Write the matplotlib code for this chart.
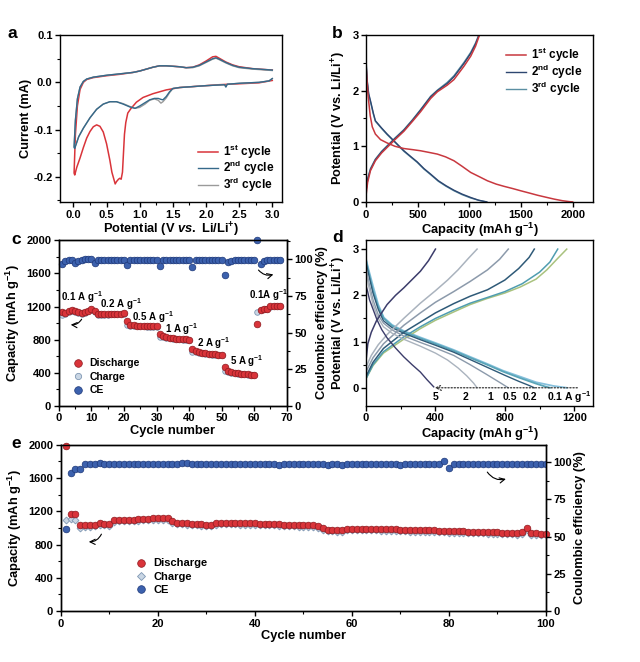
import matplotlib
matplotlib.use('Agg')
import matplotlib.pyplot as plt
from matplotlib.ticker import MultipleLocator, AutoMinorLocator

plt.rcParams['font.family'] = ['Liberation Sans', 'DejaVu Sans']
plt.rcParams['font.weight'] = 'bold'
plt.rcParams['axes.labelweight'] = 'bold'
plt.rcParams['mathtext.fontset'] = 'custom'
plt.rcParams['mathtext.rm'] = 'Liberation Sans:bold'
plt.rcParams['mathtext.bf'] = 'Liberation Sans:bold'
plt.rcParams['mathtext.it'] = 'Liberation Sans:italic:bold'
plt.rcParams['mathtext.default'] = 'bf'
plt.rcParams['font.size'] = 9.3
plt.rcParams['axes.linewidth'] = 1.0

# ---------------- panel a: CV curves (V, mA) ----------------
cv1_v = [3.0, 2.8, 2.5, 2.2, 2.0, 1.8, 1.6, 1.4, 1.2, 1.05, 0.95, 0.87, 0.82, 0.79, 0.77,
         0.755, 0.74, 0.72, 0.70, 0.68, 0.65, 0.63, 0.61, 0.58, 0.55, 0.5, 0.45, 0.4, 0.35,
         0.3, 0.25, 0.2, 0.15, 0.1, 0.05, 0.02, 0.01,
         0.03, 0.06, 0.1, 0.15, 0.2, 0.3, 0.5, 0.7, 0.9, 1.0, 1.1, 1.2, 1.3, 1.4, 1.5, 1.6,
         1.7, 1.8, 1.9, 2.0, 2.1, 2.15, 2.2, 2.3, 2.4, 2.5, 2.7, 2.9, 3.0]
cv1_i = [0.004, -0.001, -0.003, -0.005, -0.007, -0.009, -0.011, -0.016, -0.024, -0.032,
         -0.042, -0.055, -0.065, -0.085, -0.11, -0.15, -0.19, -0.205, -0.203, -0.205, -0.21,
         -0.215, -0.205, -0.19, -0.165, -0.13, -0.105, -0.093, -0.09, -0.094, -0.104, -0.118,
         -0.138, -0.16, -0.18, -0.196, -0.192,
         -0.11, -0.05, -0.015, 0.0, 0.006, 0.01, 0.014, 0.017, 0.021, 0.024, 0.028, 0.032,
         0.035, 0.035, 0.034, 0.033, 0.031, 0.032, 0.037, 0.045, 0.054, 0.055, 0.051, 0.043,
         0.037, 0.033, 0.029, 0.027, 0.026]
cv2_v = [3.0, 2.95, 2.8, 2.5, 2.32, 2.3, 2.28, 2.0, 1.8, 1.6, 1.5, 1.45, 1.4, 1.35, 1.32,
         1.28, 1.22, 1.15, 1.08, 1.0, 0.93, 0.85, 0.75, 0.65, 0.55, 0.45, 0.35, 0.25, 0.15,
         0.08, 0.02, 0.01,
         0.03, 0.06, 0.1, 0.15, 0.2, 0.3, 0.5, 0.7, 0.9, 1.0, 1.1, 1.2, 1.3, 1.4, 1.5, 1.6,
         1.7, 1.8, 1.9, 2.0, 2.1, 2.15, 2.2, 2.3, 2.4, 2.5, 2.7, 2.9, 3.0]
cv2_i = [0.008, 0.003, 0.0, -0.002, -0.004, -0.01, -0.005, -0.007, -0.009, -0.011, -0.013,
         -0.02, -0.03, -0.037, -0.036, -0.034, -0.034, -0.037, -0.043, -0.05, -0.055, -0.052,
         -0.046, -0.041, -0.041, -0.046, -0.057, -0.075, -0.097, -0.115, -0.14, -0.138,
         -0.08, -0.035, -0.01, 0.002, 0.007, 0.011, 0.015, 0.018, 0.021, 0.024, 0.028, 0.032,
         0.035, 0.035, 0.034, 0.033, 0.031, 0.032, 0.036, 0.043, 0.05, 0.052, 0.049, 0.042,
         0.036, 0.032, 0.029, 0.027, 0.026]
cv3_v = [3.0, 2.95, 2.8, 2.5, 2.32, 2.3, 2.28, 2.0, 1.8, 1.6, 1.5, 1.45, 1.4, 1.35, 1.32,
         1.28, 1.22, 1.15, 1.08, 1.0, 0.93, 0.85, 0.75, 0.65, 0.55, 0.45, 0.35, 0.25, 0.15,
         0.08, 0.02, 0.01,
         0.03, 0.06, 0.1, 0.15, 0.2, 0.3, 0.5, 0.7, 0.9, 1.0, 1.1, 1.2, 1.3, 1.4, 1.5, 1.6,
         1.7, 1.8, 1.9, 2.0, 2.1, 2.15, 2.2, 2.3, 2.4, 2.5, 2.7, 2.9, 3.0]
cv3_i = [0.008, 0.003, 0.0, -0.002, -0.004, -0.009, -0.005, -0.007, -0.009, -0.011, -0.013,
         -0.022, -0.033, -0.041, -0.044, -0.038, -0.035, -0.038, -0.046, -0.053, -0.055,
         -0.051, -0.045, -0.041, -0.041, -0.046, -0.057, -0.075, -0.097, -0.115, -0.138, -0.136,
         -0.08, -0.035, -0.01, 0.002, 0.007, 0.011, 0.015, 0.018, 0.021, 0.024, 0.028, 0.032,
         0.035, 0.035, 0.034, 0.033, 0.031, 0.031, 0.035, 0.042, 0.049, 0.051, 0.048, 0.041,
         0.035, 0.031, 0.028, 0.026, 0.025]

# ---------------- panel b: first three cycles (mAh/g, V) ----------------
b1_dis_c = [0, 8, 20, 40, 60, 90, 140, 204, 280, 366, 450, 527, 610, 690, 770, 851, 930,
            1013, 1100, 1175, 1260, 1336, 1420, 1498, 1580, 1660, 1740, 1822, 1900, 1968, 2000]
b1_dis_v = [2.45, 2.2, 1.9, 1.55, 1.35, 1.22, 1.12, 1.06, 1.0, 0.96, 0.94, 0.92, 0.89, 0.86,
            0.81, 0.74, 0.64, 0.53, 0.45, 0.38, 0.32, 0.28, 0.24, 0.2, 0.16, 0.12, 0.085,
            0.05, 0.022, 0.005, 0.0]
b1_ch_c = [0, 15, 42, 90, 150, 204, 280, 366, 450, 527, 625, 690, 786, 851, 948, 1013, 1060, 1098]
b1_ch_v = [0.12, 0.35, 0.56, 0.74, 0.88, 0.98, 1.12, 1.27, 1.45, 1.62, 1.86, 1.98, 2.1, 2.2,
           2.44, 2.62, 2.8, 3.0]
b2_dis_c = [0, 10, 25, 45, 70, 90, 150, 204, 280, 366, 430, 495, 560, 625, 700, 775, 851,
            930, 1013, 1090, 1170]
b2_dis_v = [2.55, 2.2, 1.95, 1.8, 1.6, 1.46, 1.33, 1.22, 1.08, 0.92, 0.82, 0.72, 0.6, 0.5,
            0.38, 0.29, 0.21, 0.14, 0.08, 0.03, 0.0]
b2_ch_c = [0, 15, 42, 90, 150, 204, 280, 366, 450, 527, 625, 690, 786, 851, 948, 1013, 1060, 1094]
b2_ch_v = [0.2, 0.4, 0.58, 0.76, 0.9, 1.0, 1.14, 1.29, 1.47, 1.65, 1.89, 2.0, 2.13, 2.25,
           2.49, 2.67, 2.84, 3.0]
b3_dis_c = [0, 10, 25, 45, 70, 90, 150, 204, 280, 366, 430, 495, 560, 625, 700, 775, 851,
            930, 1013, 1090, 1160]
b3_dis_v = [2.5, 2.18, 1.93, 1.78, 1.58, 1.45, 1.32, 1.21, 1.07, 0.91, 0.81, 0.71, 0.59, 0.49,
            0.37, 0.28, 0.2, 0.13, 0.07, 0.03, 0.0]
b3_ch_c = [0, 15, 42, 90, 150, 204, 280, 366, 450, 527, 625, 690, 786, 851, 948, 1013, 1060, 1090]
b3_ch_v = [0.22, 0.42, 0.6, 0.77, 0.91, 1.01, 1.15, 1.3, 1.48, 1.66, 1.9, 2.01, 2.15, 2.27,
           2.51, 2.69, 2.86, 3.0]

# ---------------- panel c: rate capability ----------------
c_cycle = list(range(1, 69))
c_dis = [1130, 1120, 1140, 1160, 1140, 1130, 1120, 1130, 1150, 1170,
         1140, 1110, 1105, 1105, 1105, 1110, 1110, 1115, 1115, 1120,
         1020, 980, 975, 970, 965, 965, 965, 965, 960, 960,
         870, 840, 830, 820, 815, 810, 810, 805, 805, 800,
         690, 660, 650, 640, 635, 630, 625, 625, 620, 620,
         470, 420, 410, 400, 395, 390, 385, 380, 378, 375,
         985, 1160, 1170, 1175, 1205, 1210, 1210, 1210]
c_ch = [1100, 1110, 1130, 1150, 1130, 1120, 1115, 1125, 1140, 1160,
        1130, 1100, 1100, 1100, 1100, 1105, 1105, 1110, 1110, 1115,
        980, 970, 965, 962, 960, 960, 958, 958, 955, 955,
        830, 830, 820, 815, 810, 805, 805, 800, 800, 795,
        650, 650, 640, 635, 630, 625, 620, 620, 615, 615,
        420, 410, 400, 395, 390, 385, 380, 378, 375, 372,
        1130, 1155, 1165, 1170, 1200, 1205, 1205, 1205]
c_ce = [96.5, 99, 99.5, 99.5, 97.5, 99, 99.5, 100, 100.5, 100.5,
        97.5, 99.5, 99.5, 99.5, 99.5, 99.5, 99.5, 99.5, 99.5, 99.5,
        96, 99.5, 99.5, 99.5, 99.5, 99.5, 99.5, 99.5, 99.5, 99.5,
        95.5, 99.5, 99.5, 99.5, 99.5, 99.5, 99.5, 99.5, 99.5, 99.5,
        94.5, 99.5, 99.5, 99.5, 99.5, 99.5, 99.5, 99.5, 99.5, 99.5,
        89, 98, 99, 99.5, 99.5, 99.5, 99.5, 99.5, 99.5, 99.5,
        113, 97, 99, 99.5, 99.5, 99.5, 99.5, 99.5]
c_rate_labels = ['0.1 A g$^{-1}$', '0.2 A g$^{-1}$', '0.5 A g$^{-1}$', '1 A g$^{-1}$',
                 '2 A g$^{-1}$', '5 A g$^{-1}$', '0.1A g$^{-1}$']
c_rate_pos = [(0.8, 1317), (12.6, 1229), (22.4, 1076), (32.5, 928), (42.5, 755), (52.5, 542), (58.3, 1337)]

# ---------------- panel d: profiles at various rates ----------------
d_rates = ['0.1', '0.2', '0.5', '1', '2', '5']
d_dis_c = {
    '0.1': [0, 15, 40, 70, 102, 150, 217, 313, 400, 505, 600, 697, 790, 889, 980, 1080, 1157],
    '0.2': [0, 15, 40, 70, 102, 150, 217, 313, 400, 505, 600, 697, 790, 889, 980, 1030, 1060],
    '0.5': [0, 15, 40, 70, 100, 150, 217, 313, 400, 505, 600, 700, 800, 880, 940, 970],
    '1': [0, 15, 40, 70, 100, 150, 217, 313, 400, 505, 600, 690, 760, 820],
    '2': [0, 15, 40, 70, 100, 150, 217, 313, 400, 470, 530, 580, 620, 640],
    '5': [0, 8, 20, 40, 63, 90, 121, 170, 217, 265, 313, 350, 390],
}
d_dis_v = {
    '0.1': [2.78, 2.55, 2.2, 1.8, 1.52, 1.36, 1.23, 1.09, 0.97, 0.82, 0.67, 0.52, 0.37, 0.24, 0.12, 0.04, 0.0],
    '0.2': [2.75, 2.5, 2.1, 1.75, 1.5, 1.34, 1.21, 1.07, 0.95, 0.8, 0.65, 0.5, 0.35, 0.21, 0.09, 0.03, 0.0],
    '0.5': [2.7, 2.45, 2.05, 1.7, 1.45, 1.3, 1.18, 1.04, 0.92, 0.77, 0.61, 0.44, 0.27, 0.14, 0.05, 0.0],
    '1': [2.6, 2.3, 1.9, 1.58, 1.4, 1.25, 1.12, 0.98, 0.86, 0.7, 0.5, 0.3, 0.14, 0.0],
    '2': [2.55, 2.2, 1.8, 1.5, 1.32, 1.18, 1.05, 0.9, 0.75, 0.6, 0.43, 0.26, 0.1, 0.0],
    '5': [2.2, 2.1, 1.9, 1.7, 1.47, 1.26, 1.08, 0.86, 0.67, 0.5, 0.34, 0.18, 0.02],
}
d_ch_c = {
    '0.1': [0, 40, 100, 217, 313, 400, 505, 600, 697, 800, 889, 980, 1042, 1100, 1157],
    '0.2': [0, 40, 100, 217, 313, 400, 505, 600, 697, 800, 900, 1000, 1060, 1105],
    '0.5': [0, 40, 100, 217, 313, 400, 505, 600, 700, 800, 880, 940, 970],
    '1': [0, 40, 100, 217, 313, 400, 505, 600, 700, 770, 820],
    '2': [0, 30, 70, 121, 217, 313, 400, 470, 530, 590, 640],
    '5': [0, 10, 30, 60, 121, 170, 217, 265, 313, 360, 400],
}
d_ch_v = {
    '0.1': [0.2, 0.48, 0.75, 1.05, 1.28, 1.46, 1.64, 1.8, 1.93, 2.05, 2.18, 2.35, 2.55, 2.78, 3.0],
    '0.2': [0.2, 0.5, 0.78, 1.1, 1.32, 1.5, 1.68, 1.83, 1.95, 2.08, 2.25, 2.5, 2.72, 3.0],
    '0.5': [0.25, 0.55, 0.85, 1.2, 1.42, 1.62, 1.82, 1.98, 2.12, 2.33, 2.58, 2.82, 3.0],
    '1': [0.35, 0.65, 0.95, 1.35, 1.62, 1.85, 2.08, 2.3, 2.55, 2.78, 3.0],
    '2': [0.45, 0.7, 0.93, 1.15, 1.5, 1.83, 2.1, 2.33, 2.55, 2.8, 3.0],
    '5': [0.6, 0.95, 1.2, 1.45, 1.8, 2.0, 2.16, 2.34, 2.52, 2.75, 3.0],
}
d_label_x = [1168, 946, 827, 716, 572, 400]
d_label_txt = ['0.1 A g$^{-1}$', '0.2', '0.5', '1', '2', '5']

# ---------------- panel e: long cycling ----------------
e_cycle = list(range(1, 101))
e_dis = [1990, 1170, 1165, 1040, 1030, 1035, 1040, 1060, 1050, 1045,
         1095, 1095, 1095, 1100, 1100, 1105, 1105, 1110, 1115, 1120,
         1120, 1115, 1080, 1065, 1060, 1055, 1050, 1050, 1045, 1040,
         1035, 1055, 1065, 1065, 1065, 1060, 1060, 1060, 1055, 1055,
         1050, 1050, 1050, 1050, 1045, 1040, 1040, 1035, 1035, 1035,
         1035, 1030, 1020, 995, 980, 975, 975, 970, 990, 990,
         990, 990, 990, 990, 990, 985, 985, 985, 985, 980,
         980, 975, 975, 975, 975, 970, 970, 965, 965, 960,
         960, 960, 960, 955, 955, 955, 955, 950, 950, 950,
         945, 945, 940, 940, 950, 995, 935, 935, 930, 930]
e_ch = [1100, 1105, 1100, 1000, 1010, 1015, 1020, 1040, 1030, 1025,
        1075, 1078, 1080, 1082, 1085, 1088, 1090, 1092, 1095, 1098,
        1100, 1095, 1060, 1048, 1042, 1038, 1035, 1032, 1028, 1022,
        1018, 1038, 1045, 1045, 1045, 1042, 1040, 1040, 1036, 1035,
        1032, 1030, 1030, 1030, 1026, 1022, 1020, 1018, 1016, 1016,
        1015, 1012, 1000, 978, 962, 958, 956, 952, 972, 972,
        970, 970, 970, 970, 970, 966, 966, 965, 965, 962,
        960, 957, 956, 956, 955, 952, 951, 948, 946, 942,
        942, 941, 940, 937, 936, 936, 935, 932, 931, 930,
        927, 926, 922, 921, 930, 975, 917, 916, 912, 912]
e_ce = [55, 92.5, 95, 95.5, 98.6, 98.6, 98.6, 99, 98.8, 98.6,
        98.6, 98.4, 98.6, 98.6, 98.6, 98.4, 98.6, 98.6, 98.4, 98.4,
        98.6, 98.6, 98.6, 98.6, 99, 99, 98.6, 98.6, 98.6, 98.4,
        98.6, 98.6, 98.6, 98.6, 98.6, 98.6, 98.4, 98.6, 98.6, 98.6,
        98.6, 98.6, 98.6, 98.4, 98, 98.8, 98.8, 98.6, 98.8, 98.6,
        98.6, 98.4, 98.6, 98.4, 98, 98.6, 98.8, 98.2, 98.4, 98.4,
        98.4, 98.4, 98.6, 98.4, 98.4, 98.4, 98.4, 98.4, 98.8, 98,
        98.4, 98.4, 98.6, 98.4, 98.4, 98.4, 98.4, 98.8, 101, 96,
        98.4, 98.4, 98.6, 98.6, 98.6, 98.6, 98.6, 98.6, 98.6, 98.6,
        98.6, 98.6, 98.6, 98.6, 98.6, 98.6, 98.6, 98.6, 98.6, 98.6]

red = '#d9343a'
red_edge = '#8e1a1f'
ch_face = '#c9d6e4'
ch_edge = '#7f97b3'
ce_face = '#3c61ad'
ce_edge = '#1d3778'

fig = plt.figure(figsize=(6.4, 6.62), dpi=100)


def style(ax):
    ax.tick_params(which='major', direction='out', length=3.5, width=1.0, labelsize=8, pad=2)
    ax.tick_params(which='minor', direction='out', length=2, width=0.8)
    ax.xaxis.set_minor_locator(AutoMinorLocator(2))
    ax.yaxis.set_minor_locator(AutoMinorLocator(2))


# ---- a ----
ax = fig.add_axes([0.094, 0.695, 0.347, 0.252])
ax.plot(cv1_v, cv1_i, color=red, lw=1.1, label='1$^{st}$ cycle')
ax.plot(cv3_v, cv3_i, color='#9a9a9a', lw=1.0, zorder=2)
ax.plot(cv2_v, cv2_i, color='#35698a', lw=1.0, label='2$^{nd}$ cycle', zorder=3)
ax.plot([], [], color='#9a9a9a', lw=1.0, label='3$^{rd}$ cycle')
ax.set_xlim(-0.2, 3.15)
ax.set_ylim(-0.253, 0.1)
ax.xaxis.set_major_locator(MultipleLocator(0.5))
ax.set_yticks([-0.2, -0.1, 0.0, 0.1])
ax.set_yticklabels(['-0.2', '-0.1', '0.0', '0.1'])
style(ax)
ax.set_xlabel('Potential (V $\\mathit{vs.}$ Li/Li$^{+}$)', labelpad=1)
ax.set_ylabel('Current (mA)')
ax.yaxis.set_label_coords(-0.125, 0.5)
ax.legend(loc='lower right', frameon=False, fontsize=8.5, handlelength=1.7,
          handletextpad=0.4, labelspacing=-0.15, borderaxespad=0.3)

# ---- b ----
ax = fig.add_axes([0.572, 0.695, 0.355, 0.252])
ax.plot(b3_dis_c, b3_dis_v, color='#5b8fa3', lw=1.0)
ax.plot(b3_ch_c, b3_ch_v, color='#5b8fa3', lw=1.0)
ax.plot(b2_dis_c, b2_dis_v, color='#2d4670', lw=1.0)
ax.plot(b2_ch_c, b2_ch_v, color='#2d4670', lw=1.0)
ax.plot(b1_dis_c, b1_dis_v, color='#c8383f', lw=1.1, label='1$^{st}$ cycle')
ax.plot(b1_ch_c, b1_ch_v, color='#c8383f', lw=1.1)
ax.plot([], [], color='#2d4670', lw=1.0, label='2$^{nd}$ cycle')
ax.plot([], [], color='#5b8fa3', lw=1.0, label='3$^{rd}$ cycle')
ax.set_xlim(0, 2200)
ax.set_ylim(0, 3)
ax.xaxis.set_major_locator(MultipleLocator(500))
ax.yaxis.set_major_locator(MultipleLocator(1))
style(ax)
ax.set_xlabel('Capacity (mAh g$^{-1}$)', labelpad=1)
ax.set_ylabel('Potential (V vs. Li/Li$^{+}$)')
ax.yaxis.set_label_coords(-0.079, 0.5)
ax.legend(loc='upper right', frameon=False, fontsize=8.5, handlelength=1.7,
          handletextpad=0.4, labelspacing=-0.1, borderaxespad=0.5)

# ---- c ----
ax = fig.add_axes([0.092, 0.387, 0.356, 0.25])
ax2 = ax.twinx()
ax.plot(c_cycle, c_ch, 'o', ms=4, mfc=ch_face, mec=ch_edge, mew=0.6, zorder=3)
ax.plot(c_cycle, c_dis, 'o', ms=4.8, mfc=red, mec=red_edge, mew=0.5, zorder=4)
ax2.plot(c_cycle, c_ce, 'o', ms=4.8, mfc=ce_face, mec=ce_edge, mew=0.5, clip_on=False)
ax.set_xlim(0, 70)
ax.set_ylim(0, 2000)
ax2.set_ylim(0, 113)
ax.xaxis.set_major_locator(MultipleLocator(10))
ax.yaxis.set_major_locator(MultipleLocator(400))
ax2.yaxis.set_major_locator(MultipleLocator(25))
style(ax)
style(ax2)
ax.set_xlabel('Cycle number', labelpad=1)
ax.set_ylabel('Capacity (mAh g$^{-1}$)')
ax.yaxis.set_label_coords(-0.16, 0.5)
ax2.set_ylabel('Coulombic efficiency (%)')
ax2.yaxis.set_label_coords(1.13, 0.5)
for txt, (xx, yy) in zip(c_rate_labels, c_rate_pos):
    ax.text(xx, yy, txt, fontsize=7, ha='left', va='center')
ax.annotate('', xy=(2.8, 984), xytext=(7.4, 1076),
            arrowprops=dict(arrowstyle='->', connectionstyle='arc3,rad=-0.4', lw=0.8))
ax.annotate('', xy=(66.7, 1598), xytext=(60.8, 1667),
            arrowprops=dict(arrowstyle='->', connectionstyle='arc3,rad=0.4', lw=0.8))
hd = ax.plot([], [], 'o', ms=5.5, mfc=red, mec=red_edge, mew=0.5, label='Discharge')[0]
hc = ax.plot([], [], 'o', ms=4.5, mfc=ch_face, mec=ch_edge, mew=0.6, label='Charge')[0]
he = ax.plot([], [], 'o', ms=5.5, mfc=ce_face, mec=ce_edge, mew=0.5, label='CE')[0]
ax.legend(handles=[hd, hc, he], loc='center left', bbox_to_anchor=(0.062, 0.175),
          frameon=False, fontsize=7.5, handlelength=1.0, handletextpad=0.6,
          labelspacing=0.35, borderpad=0, borderaxespad=0)

# ---- d ----
d_colors_dis = {'0.1': '#86c0dc', '0.2': '#5aa5b8', '0.5': '#2f5a78',
                '1': '#8c9aab', '2': '#aab3be', '5': '#3c3d6b'}
d_colors_ch = {'0.1': '#a9c27e', '0.2': '#4f9db0', '0.5': '#2f5a78',
               '1': '#8c9aab', '2': '#aab3be', '5': '#3c3d6b'}
ax = fig.add_axes([0.572, 0.387, 0.355, 0.25])
for r in d_rates:
    ax.plot(d_dis_c[r], d_dis_v[r], color=d_colors_dis[r], lw=1.3 if r in ('0.1', '0.2') else 1.0)
    ax.plot(d_ch_c[r], d_ch_v[r], color=d_colors_ch[r], lw=1.1)
ax.annotate('', xy=(380, 0), xytext=(1234, 0),
            arrowprops=dict(arrowstyle='->', linestyle=(0, (1, 1.5)), lw=0.9, color='#333333'))
for xx, txt in zip(d_label_x, d_label_txt):
    ax.text(xx, -0.2, txt, fontsize=7.5, ha='center', va='center')
ax.set_xlim(0, 1310)
ax.set_ylim(-0.39, 3.19)
ax.xaxis.set_major_locator(MultipleLocator(400))
ax.yaxis.set_major_locator(MultipleLocator(1))
style(ax)
ax.set_xlabel('Capacity (mAh g$^{-1}$)', labelpad=1)
ax.set_ylabel('Potential (V vs. Li/Li$^{+}$)')
ax.yaxis.set_label_coords(-0.079, 0.5)

# ---- e ----
ax = fig.add_axes([0.095, 0.077, 0.758, 0.251])
ax2 = ax.twinx()
ax.plot(e_cycle, e_ch, 'D', ms=3.5, mfc=ch_face, mec=ch_edge, mew=0.6, zorder=3)
ax.plot(e_cycle, e_dis, 'o', ms=4.8, mfc=red, mec=red_edge, mew=0.5, zorder=4, clip_on=False)
ax2.plot(e_cycle, e_ce, 'o', ms=4.8, mfc=ce_face, mec=ce_edge, mew=0.5)
ax.set_xlim(0, 100)
ax.set_ylim(0, 2000)
ax2.set_ylim(0, 111.5)
ax.xaxis.set_major_locator(MultipleLocator(20))
ax.yaxis.set_major_locator(MultipleLocator(400))
ax2.yaxis.set_major_locator(MultipleLocator(25))
style(ax)
style(ax2)
ax.set_xlabel('Cycle number', labelpad=1)
ax.set_ylabel('Capacity (mAh g$^{-1}$)')
ax.yaxis.set_label_coords(-0.076, 0.5)
ax2.set_ylabel('Coulombic efficiency (%)')
ax2.yaxis.set_label_coords(1.058, 0.5)
ax.annotate('', xy=(5.2, 835), xytext=(8.6, 956),
            arrowprops=dict(arrowstyle='->', connectionstyle='arc3,rad=-0.4', lw=0.8))
ax.annotate('', xy=(92.3, 1598), xytext=(87.6, 1700),
            arrowprops=dict(arrowstyle='->', connectionstyle='arc3,rad=0.4', lw=0.8))
hd = ax.plot([], [], 'o', ms=5.5, mfc=red, mec=red_edge, mew=0.5, label='Discharge')[0]
hc = ax.plot([], [], 'D', ms=4, mfc=ch_face, mec=ch_edge, mew=0.6, label='Charge')[0]
he = ax.plot([], [], 'o', ms=5.5, mfc=ce_face, mec=ce_edge, mew=0.5, label='CE')[0]
ax.legend(handles=[hd, hc, he], loc='center left', bbox_to_anchor=(0.154, 0.206),
          frameon=False, fontsize=8, handlelength=1.0, handletextpad=0.6,
          labelspacing=0.3, borderpad=0, borderaxespad=0)

# panel letters
for lab, xx, yy in [('a', 12, 34), ('b', 337, 33), ('c', 16, 240), ('d', 338, 237), ('e', 16, 444)]:
    fig.text(xx / 640, 1 - yy / 662, lab, fontsize=12.5, fontweight='bold',
             ha='center', va='center')

fig.savefig('out.png', dpi=100)
